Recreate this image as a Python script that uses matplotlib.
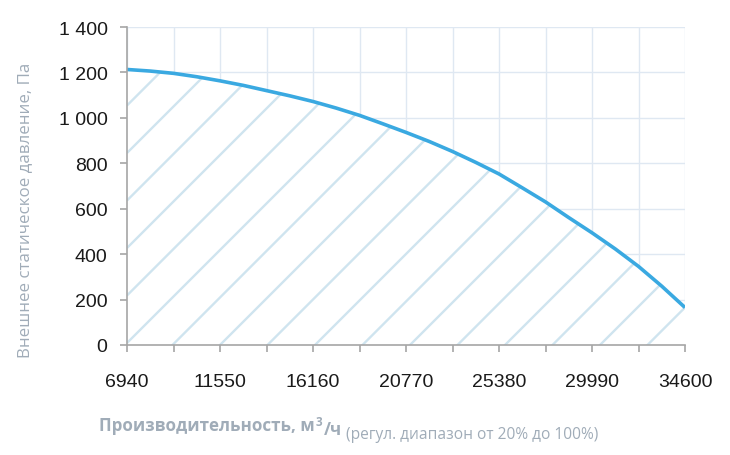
#!/usr/bin/env python
"""Fan curve: external static pressure vs airflow."""

import numpy as np
import matplotlib as mpl
mpl.use('Agg')
import matplotlib.pyplot as plt
from matplotlib.collections import LineCollection
from matplotlib.ticker import FuncFormatter, MultipleLocator

# airflow, m3/h (read at quarter tick steps)
airflow = [6940, 8092.5, 9245, 10397.5, 11550, 12702.5, 13855, 15007.5,
           16160, 17312.5, 18465, 19617.5, 20770, 21922.5, 23075, 24227.5,
           25380, 26532.5, 27685, 28837.5, 29990, 31142.5, 32295, 33447.5,
           34600]
# external static pressure, Pa
pressure = [1213, 1206, 1196, 1181, 1163, 1143, 1120, 1097,
            1072, 1043, 1011, 974, 936, 896, 852, 804,
            753, 692, 630, 561, 494, 423, 346, 259,
            165]
x_labels = [6940, 11550, 16160, 20770, 25380, 29990, 34600]
y_ticks = [0, 200, 400, 600, 800, 1000, 1200, 1400]

CURVE = '#3aa9e1'
HATCH = '#cfe4ef'
GRID = '#dfe8f2'
LABEL = '#a0acb8'
SPINE = '#a6a6a6'
TICKFONT = ['Liberation Sans', 'DejaVu Sans']
LABELFONT = ['Open Sans', 'DejaVu Sans']

fig = plt.figure(figsize=(7.3, 4.56), dpi=100)
ax = fig.add_axes([127 / 730, 1 - 346 / 456, 558 / 730, 318 / 456])

ax.set_xlim(airflow[0], airflow[-1])
ax.set_ylim(y_ticks[0], y_ticks[-1])

# grid
ax.set_xticks(x_labels)
ax.xaxis.set_minor_locator(MultipleLocator((x_labels[1] - x_labels[0]) / 2,
                                           offset=x_labels[0]))
ax.set_yticks(y_ticks)
ax.grid(True, which='both', axis='x', color=GRID, lw=1)
ax.grid(True, which='major', axis='y', color=GRID, lw=1)
ax.set_axisbelow(True)

# filled area under the curve, hatched with wide diagonal lines
fill = ax.fill_between(airflow, pressure, 0, facecolor='white',
                       edgecolor='none', zorder=1)
bb = ax.get_window_extent()
w, h = bb.width, bb.height
step = 47.5
segs = []
for c in 2 + step * np.arange(-13, 8):
    # 45 degree line in pixels: y_px = x_px + c
    segs.append([(0, c / h), (1, (w + c) / h)])
hatch = LineCollection(segs, colors=HATCH, linewidths=1.7,
                       transform=ax.transAxes, zorder=2)
hatch.set_clip_path(fill.get_paths()[0], ax.transData)
ax.add_collection(hatch)

ax.plot(airflow, pressure, color=CURVE, lw=2.6, zorder=3,
        solid_capstyle='butt')

# spines and ticks
for side in ['top', 'right']:
    ax.spines[side].set_visible(False)
for side in ['left', 'bottom']:
    ax.spines[side].set_color(SPINE)
    ax.spines[side].set_linewidth(1.2)
    ax.spines[side].set_zorder(4)

ax.tick_params(axis='x', which='both', direction='out', length=5,
               width=1.2, color=SPINE, pad=15)
ax.tick_params(axis='y', which='major', direction='out', length=5,
               width=1.2, color=SPINE, pad=9)
ax.yaxis.set_major_formatter(
    FuncFormatter(lambda v, _: '{:,}'.format(int(v)).replace(',', ' ')))
for lab in ax.get_xticklabels() + ax.get_yticklabels():
    lab.set_family(TICKFONT)
    lab.set_fontsize(14)
    lab.set_color('#1a1a1a')

# axis titles
fig.text(25 / 730, 1 - 210 / 456, 'Внешнее статическое давление, Па',
         rotation=90, ha='center', va='center', color=LABEL,
         fontsize=12.2, family=LABELFONT)

t1 = fig.text(99 / 730, 1 - 431 / 456, 'Производительность, м',
              ha='left', va='baseline', color=LABEL, fontsize=12.25,
              fontweight='bold', family=LABELFONT)
t2 = ax.annotate('3', xy=(1, 0), xycoords=t1, xytext=(0.5, 6.5),
                 textcoords='offset points', ha='left', va='baseline',
                 color=LABEL, fontsize=8.5, fontweight='bold',
                 family=LABELFONT, annotation_clip=False)
t3 = ax.annotate('/ч', xy=(1, 0), xycoords=t1, xytext=(6.5, 0),
                 textcoords='offset points', ha='left', va='baseline',
                 color=LABEL, fontsize=12.25, fontweight='bold',
                 family=LABELFONT, annotation_clip=False)
ax.annotate(' (регул. диапазон от 20% до 100%)', xy=(1, 0), xycoords=t3,
            ha='left', va='baseline', color=LABEL, fontsize=11.2,
            family=LABELFONT, annotation_clip=False)

plt.savefig('out.png', dpi=100)
